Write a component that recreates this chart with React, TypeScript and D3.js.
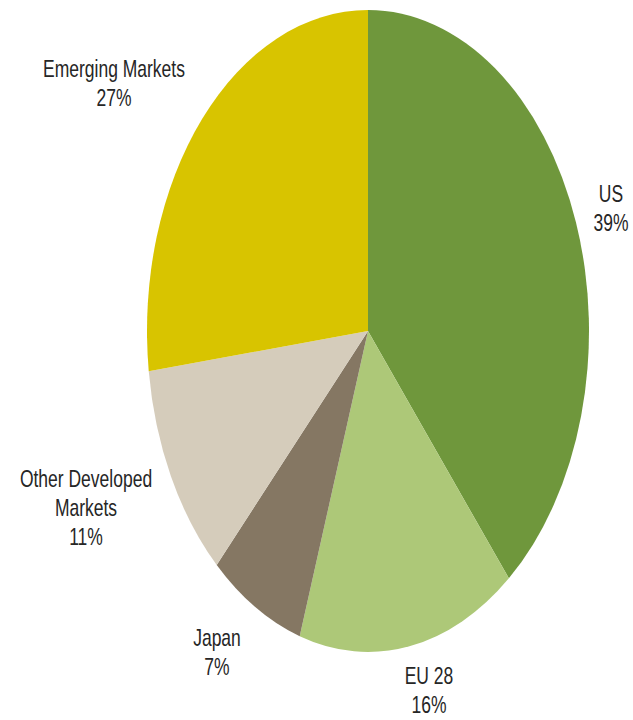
import React from "react";
import * as d3 from "d3";

const categories = ["US", "EU 28", "Japan", "Other Developed Markets", "Emerging Markets"];
const shares = [39, 16, 7, 11, 27];
const colors = ["#6f973c", "#adc878", "#857763", "#d5ccbb", "#d8c400"];
const labelLines = [["US"], ["EU 28"], ["Japan"], ["Other Developed", "Markets"], ["Emerging Markets"]];

// layout (screen positions of label centers / first baseline)
const LABEL_POS: [number, number][] = [
  [611, 202],
  [429, 684],
  [217, 646],
  [86, 487],
  [114, 77],
];

const W = 633;
const H = 720;
const CX = 368;
const CY = 331;
const RX = 221;
const RY = 321;
const FONT = 17.5;
const SY = 1.36;
const LINE = 21.3;

export default function App() {
  const data = categories.map((c, i) => ({ c, v: shares[i], color: colors[i], lines: labelLines[i] }));
  const pie = d3.pie<any>().value((d) => d.v).sort(null).startAngle(0).endAngle(2 * Math.PI);
  const arcs = pie(data);
  const arc = d3.arc<any>().innerRadius(0).outerRadius(RX);

  return (
    <svg width={W} height={H} style={{ position: "absolute", left: 0, top: 0, background: "#fff" }}>
      <g transform={`translate(${CX},${CY}) scale(1,${RY / RX})`}>
        {arcs.map((a, i) => (
          <path key={i} d={arc(a) as string} fill={a.data.color} />
        ))}
      </g>
      {arcs.map((a, i) => {
        const [x, y] = LABEL_POS[i];
        const lines = [...a.data.lines, `${a.data.v}%`];
        return (
          <g key={"l" + i} transform={`translate(${x},${y}) scale(1,${SY})`}>
            {lines.map((t, j) => (
              <text
                key={j}
                x={0}
                y={j * LINE}
                textAnchor="middle"
                fontFamily="'Liberation Sans', Arial, sans-serif"
                fontSize={FONT}
                fill="#262626"
              >
                {t}
              </text>
            ))}
          </g>
        );
      })}
    </svg>
  );
}
